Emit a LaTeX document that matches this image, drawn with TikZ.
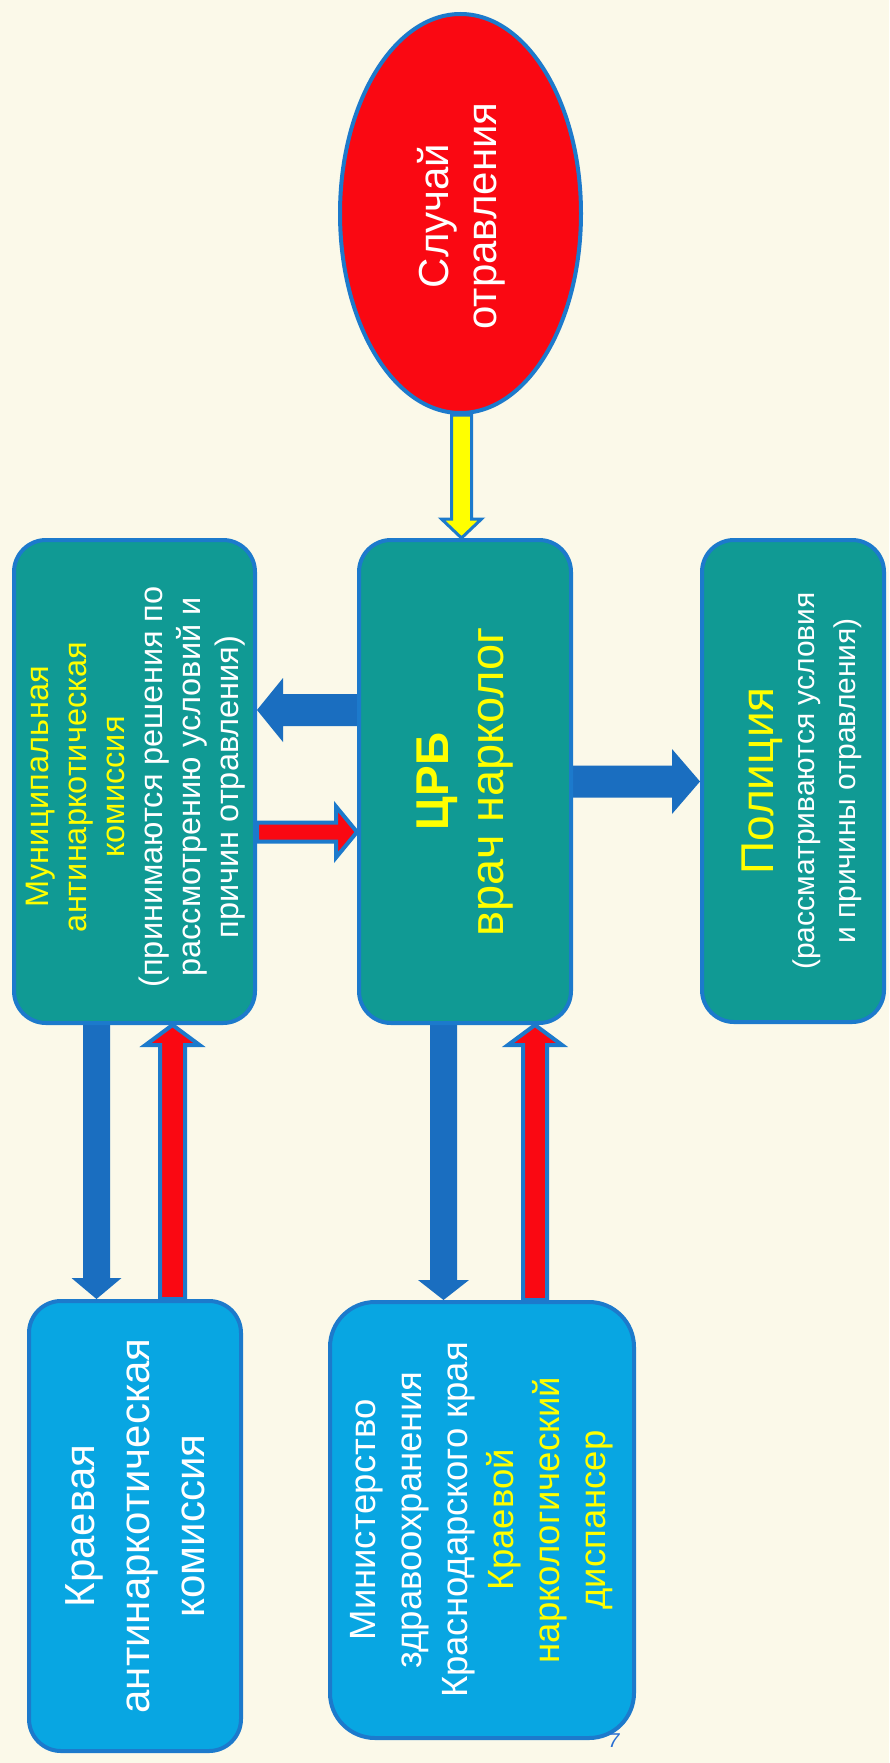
\documentclass[tikz,border=0pt]{standalone}
\usepackage{fontspec}
\setmainfont{Liberation Sans}
\usetikzlibrary{shapes.geometric,calc}
\pgfdeclarelayer{bgl}
\pgfdeclarelayer{arl}
\pgfsetlayers{bgl,arl,main}
\definecolor{bgc}{RGB}{251,249,233}
\definecolor{tealc}{RGB}{16,154,148}
\definecolor{bordc}{RGB}{28,122,204}
\definecolor{lbluec}{RGB}{8,166,226}
\definecolor{barrc}{RGB}{26,110,192}
\definecolor{redc}{RGB}{250,8,18}
\definecolor{yelc}{RGB}{255,255,0}
\definecolor{sevenc}{RGB}{40,110,210}
\newcommand\harrow[6]{%
  \path[#1] let \p1=(#2), \p2=(#3), \n1={sign(\x2-\x1)} in
  (\x1,{\y1+#4}) -- ({\x2-(\n1)*#6},{\y1+#4}) -- ({\x2-(\n1)*#6},{\y1+#5}) -- (\x2,\y1)
  -- ({\x2-(\n1)*#6},{\y1-#5}) -- ({\x2-(\n1)*#6},{\y1-#4}) -- (\x1,{\y1-#4}) -- cycle;}
\newcommand\varrow[6]{%
  \path[#1] let \p1=(#2), \p2=(#3), \n1={sign(\y2-\y1)} in
  ({\x1+#4},\y1) -- ({\x1+#4},{\y2-(\n1)*#6}) -- ({\x1+#5},{\y2-(\n1)*#6}) -- (\x1,\y2)
  -- ({\x1-#5},{\y2-(\n1)*#6}) -- ({\x1-#4},{\y2-(\n1)*#6}) -- ({\x1-#4},\y1) -- cycle;}
\tikzset{
  box/.style={draw=bordc, line width=4pt, rounded corners=32pt, inner sep=0pt},
  tealbox/.style={box, fill=tealc},
  bluebox/.style={box, fill=lbluec},
  txt/.style={rotate=90, align=center, text=white, inner sep=0pt},
  bluearr/.style={fill=barrc},
  redarr/.style={fill=redc, draw=bordc, line width=4pt, line join=miter},
  yelarr/.style={fill=yelc, draw=bordc, line width=3pt, line join=miter},
}
\begin{document}
\begin{tikzpicture}[x=1pt, y=-1pt]
\useasboundingbox (0,0) rectangle (889,1763);
\begin{pgfonlayer}{bgl}
  \fill[bgc] (0,0) rectangle (889,1763);
\end{pgfonlayer}

% nodes
\node[ellipse, draw=bordc, line width=4pt, fill=redc, minimum width=241pt, minimum height=399pt, inner sep=0pt] (ell) at (460.5,213.5) {};
\node[tealbox, minimum width=212pt, minimum height=483pt] (crb) at (465,781.5) {};
\node[tealbox, minimum width=241pt, minimum height=483pt] (mun) at (134.5,781.5) {};
\node[tealbox, minimum width=182pt, minimum height=482pt] (pol) at (793,781) {};
\node[bluebox, minimum width=212pt, minimum height=450pt] (kr) at (135,1526) {};
\node[bluebox, rounded corners=45pt, minimum width=304pt, minimum height=436pt] (min) at (482,1520) {};

% texts
\node[txt, font=\fontsize{42}{48}\selectfont] (ellt) at (461,216) {Случай\\ отравления};
\node[txt, text=yelc, font=\fontsize{47}{55}\selectfont] (crbt) at (crb) {{\bfseries\fontsize{46}{55}\selectfont ЦРБ}\\ врач нарколог};
\node[txt, font=\fontsize{32.5}{38}\selectfont] (munt) at (136,787) {\textcolor{yelc}{Муниципальная}\\ \textcolor{yelc}{антинаркотическая}\\ \textcolor{yelc}{комиссия}\\ (принимаются решения по\\ рассмотрению условий и\\ причин отравления)};
\node[txt, font=\fontsize{30}{41}\selectfont] (polt) at (802,781) {\textcolor{yelc}{\fontsize{46}{41}\selectfont Полиция}\\ (рассматриваются условия\\ и причины отравления)};
\node[txt, font=\fontsize{42}{55}\selectfont] (krt) at (kr) {Краевая\\ антинаркотическая\\ комиссия};
\node[txt, font=\fontsize{36.5}{46}\selectfont] (mint) at (min) {Министерство\\ здравоохранения\\ Краснодарского края\\ \textcolor{yelc}{Краевой}\\ \textcolor{yelc}{наркологический}\\ \textcolor{yelc}{диспансер}};
\node[text=sevenc, font=\fontsize{20}{20}\selectfont\itshape, inner sep=0pt] (seven) at (614,1741) {7};

% connectors
\begin{pgfonlayer}{arl}
  \varrow{yelarr}{[xshift=1pt]ell.south}{crb.north}{10pt}{20pt}{19pt}
  \harrow{bluearr}{[yshift=71.5pt]crb.west}{[yshift=71.5pt]mun.east}{16pt}{32pt}{26pt}
  \harrow{redarr}{[yshift=-50.5pt]mun.east}{[yshift=-50.5pt]crb.west}{9.5pt}{25.5pt}{21pt}
  \harrow{bluearr}{crb.east}{pol.west}{16pt}{32.5pt}{28pt}
  \varrow{bluearr}{[xshift=-38pt]mun.south}{kr.north}{13.5pt}{25pt}{21pt}
  \varrow{redarr}{[xshift=37.5pt]kr.north}{mun.south}{12.5pt}{27pt}{20pt}
  \varrow{bluearr}{[xshift=-21.5pt]crb.south}{min.north}{13.5pt}{25.5pt}{20pt}
  \varrow{redarr}{[xshift=53pt]min.north}{crb.south}{12pt}{27pt}{20pt}
\end{pgfonlayer}
\end{tikzpicture}
\end{document}
